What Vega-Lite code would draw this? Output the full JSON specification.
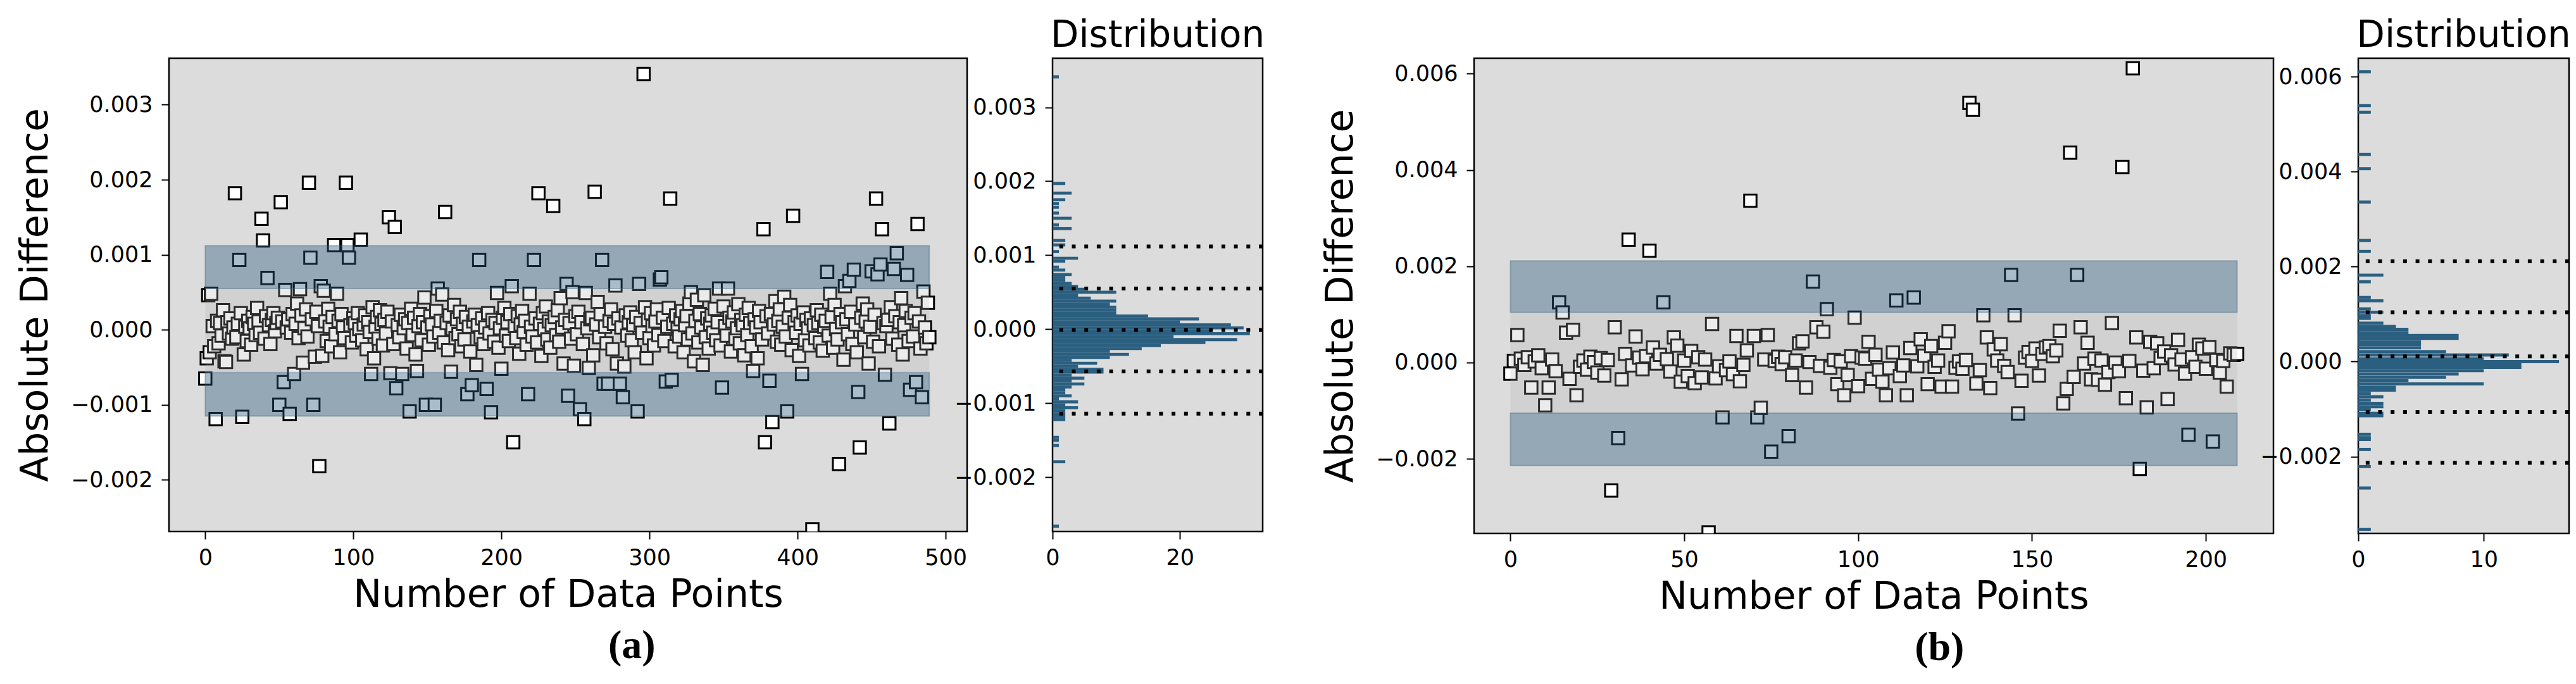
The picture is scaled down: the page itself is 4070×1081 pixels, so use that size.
{
"$schema":"https://vega.github.io/schema/vega-lite/v6.json",
"background":"white",
"padding":{"left":25,"top":26,"right":0,"bottom":0},
"autosize":{"type":"pad"},
"bounds":"full",
"spacing":87,
"datasets":{
"a_pts":[{"i":0,"v":-0.00065},{"i":1,"v":-0.00038},{"i":2,"v":0.00046},{"i":3,"v":-0.0003},{"i":4,"v":0.00048},{"i":5,"v":0.00005},{"i":6,"v":-0.00022},{"i":7,"v":-0.00119},{"i":8,"v":0.00012},{"i":9,"v":-0.00018},
{"i":10,"v":0.00009},{"i":11,"v":-0.00008},{"i":12,"v":0.00026},{"i":13,"v":-0.00042},{"i":14,"v":-0.00043},{"i":15,"v":0.0001},{"i":16,"v":-0.00005},{"i":17,"v":0.00015},{"i":18,"v":-0.00012},{"i":19,"v":0.00003},
{"i":20,"v":0.00182},{"i":21,"v":-0.0001},{"i":22,"v":0.00008},{"i":23,"v":0.00093},{"i":24,"v":0.00022},{"i":25,"v":-0.00116},{"i":26,"v":-0.00033},{"i":27,"v":0.00004},{"i":28,"v":-0.00015},{"i":29,"v":0.00012},
{"i":30,"v":0.00002},{"i":31,"v":-0.0002},{"i":32,"v":0.00017},{"i":33,"v":0.00008},{"i":34,"v":-0.00007},{"i":35,"v":0.00029},{"i":36,"v":0.00011},{"i":37,"v":-0.00004},{"i":38,"v":0.00148},{"i":39,"v":0.00119},
{"i":40,"v":-0.00012},{"i":41,"v":0.00018},{"i":42,"v":0.00069},{"i":43,"v":0.00006},{"i":44,"v":-0.00019},{"i":45,"v":0.00013},{"i":46,"v":0.00022},{"i":47,"v":-0.00002},{"i":48,"v":0.00009},{"i":49,"v":0.00016},
{"i":50,"v":-0.001},{"i":51,"v":0.0017},{"i":52,"v":0.00011},{"i":53,"v":-0.0007},{"i":54,"v":0.00053},{"i":55,"v":0.00003},{"i":56,"v":0.00014},{"i":57,"v":-0.00112},{"i":58,"v":-0.00004},{"i":59,"v":0.00021},
{"i":60,"v":-0.00059},{"i":61,"v":0.00008},{"i":62,"v":0.00035},{"i":63,"v":-0.00011},{"i":64,"v":0.00054},{"i":65,"v":0.00019},{"i":66,"v":-0.00044},{"i":67,"v":0.00002},{"i":68,"v":0.00027},{"i":69,"v":-0.00009},
{"i":70,"v":0.00196},{"i":71,"v":0.00096},{"i":72,"v":0.00014},{"i":73,"v":-0.001},{"i":74,"v":-0.00036},{"i":75,"v":0.00024},{"i":76,"v":0.00005},{"i":77,"v":-0.00182},{"i":78,"v":0.00058},{"i":79,"v":-0.00035},
{"i":80,"v":0.00052},{"i":81,"v":0.00011},{"i":82,"v":-0.00015},{"i":83,"v":0.00028},{"i":84,"v":0.00004},{"i":85,"v":-0.00022},{"i":86,"v":0.00017},{"i":87,"v":0.00113},{"i":88,"v":-0.00006},{"i":89,"v":0.00048},
{"i":90,"v":0.00012},{"i":91,"v":-0.0003},{"i":92,"v":0.00021},{"i":93,"v":0.00003},{"i":94,"v":-0.00011},{"i":95,"v":0.00196},{"i":96,"v":0.00113},{"i":97,"v":0.00096},{"i":98,"v":0.00006},{"i":99,"v":-0.00017},
{"i":100,"v":0.00015},{"i":101,"v":0.00009},{"i":102,"v":-0.00008},{"i":103,"v":0.00022},{"i":104,"v":0.00001},{"i":105,"v":0.0012},{"i":106,"v":-0.00014},{"i":107,"v":0.00007},{"i":108,"v":0.00019},{"i":109,"v":-0.00026},
{"i":110,"v":0.0001},{"i":111,"v":-0.00003},{"i":112,"v":-0.00059},{"i":113,"v":0.0003},{"i":114,"v":-0.00038},{"i":115,"v":0.00004},{"i":116,"v":0.00017},{"i":117,"v":-0.00012},{"i":118,"v":0.00026},{"i":119,"v":0.00008},
{"i":120,"v":-0.00021},{"i":121,"v":0.00013},{"i":122,"v":-0.00005},{"i":123,"v":0.00024},{"i":124,"v":0.0015},{"i":125,"v":-0.00058},{"i":126,"v":0.00011},{"i":127,"v":-0.00019},{"i":128,"v":0.00137},{"i":129,"v":-0.00078},
{"i":130,"v":0.00006},{"i":131,"v":-0.0001},{"i":132,"v":0.0002},{"i":133,"v":-0.00059},{"i":134,"v":0.00002},{"i":135,"v":0.00014},{"i":136,"v":-0.00025},{"i":137,"v":0.00009},{"i":138,"v":-0.00109},{"i":139,"v":0.00028},
{"i":140,"v":-0.00007},{"i":141,"v":0.00016},{"i":142,"v":-0.00033},{"i":143,"v":-0.00055},{"i":144,"v":0.00005},{"i":145,"v":0.00021},{"i":146,"v":-0.00014},{"i":147,"v":0.0001},{"i":148,"v":0.00043},{"i":149,"v":-0.001},
{"i":150,"v":0.00003},{"i":151,"v":-0.0002},{"i":152,"v":0.00018},{"i":153,"v":0.00007},{"i":154,"v":-0.00009},{"i":155,"v":-0.001},{"i":156,"v":0.00025},{"i":157,"v":0.00055},{"i":158,"v":-0.00004},{"i":159,"v":0.00012},
{"i":160,"v":0.00047},{"i":161,"v":-0.00017},{"i":162,"v":0.00157},{"i":163,"v":0.00009},{"i":164,"v":-0.00027},{"i":165,"v":0.00019},{"i":166,"v":-0.00056},{"i":167,"v":0.00001},{"i":168,"v":0.00033},{"i":169,"v":-0.00011},
{"i":170,"v":0.00014},{"i":171,"v":-0.00006},{"i":172,"v":0.00024},{"i":173,"v":-0.00022},{"i":174,"v":0.00008},{"i":175,"v":-0.00013},{"i":176,"v":0.00017},{"i":177,"v":-0.00086},{"i":178,"v":0.00004},{"i":179,"v":-0.00029},
{"i":180,"v":-0.00074},{"i":181,"v":0.00011},{"i":182,"v":0.0002},{"i":183,"v":-0.00047},{"i":184,"v":0.00006},{"i":185,"v":0.00093},{"i":186,"v":-0.0001},{"i":187,"v":0.00015},{"i":188,"v":-0.00019},{"i":189,"v":0.00003},
{"i":190,"v":-0.00079},{"i":191,"v":0.00022},{"i":192,"v":-0.00005},{"i":193,"v":-0.0011},{"i":194,"v":0.00013},{"i":195,"v":-0.00016},{"i":196,"v":0.00009},{"i":197,"v":0.00049},{"i":198,"v":-0.00024},{"i":199,"v":0.00002},
{"i":200,"v":-0.00052},{"i":201,"v":0.00016},{"i":202,"v":0.00029},{"i":203,"v":-0.00008},{"i":204,"v":0.0001},{"i":205,"v":-0.00015},{"i":206,"v":0.00021},{"i":207,"v":0.00058},{"i":208,"v":-0.0015},{"i":209,"v":0.00005},
{"i":210,"v":-0.00011},{"i":211,"v":0.00018},{"i":212,"v":-0.00032},{"i":213,"v":0.00007},{"i":214,"v":0.00025},{"i":215,"v":-0.00003},{"i":216,"v":0.00012},{"i":217,"v":-0.0002},{"i":218,"v":-0.00086},{"i":219,"v":0.00048},
{"i":220,"v":0.00004},{"i":221,"v":-0.00009},{"i":222,"v":0.00093},{"i":223,"v":0.00015},{"i":224,"v":-0.00017},{"i":225,"v":0.00182},{"i":226,"v":0.00008},{"i":227,"v":-0.00035},{"i":228,"v":0.00022},{"i":229,"v":0.00001},
{"i":230,"v":0.00031},{"i":231,"v":-0.00013},{"i":232,"v":0.00011},{"i":233,"v":-0.00024},{"i":234,"v":0.00006},{"i":235,"v":0.00165},{"i":236,"v":0.00017},{"i":237,"v":-0.00007},{"i":238,"v":0.00026},{"i":239,"v":-0.00016},
{"i":240,"v":0.00042},{"i":241,"v":0.00003},{"i":242,"v":-0.00045},{"i":243,"v":0.00013},{"i":244,"v":0.00061},{"i":245,"v":-0.00088},{"i":246,"v":0.00009},{"i":247,"v":-0.00012},{"i":248,"v":0.0005},{"i":249,"v":-0.00048},
{"i":250,"v":0.00018},{"i":251,"v":-0.00006},{"i":252,"v":0.00024},{"i":253,"v":-0.00106},{"i":254,"v":0.0001},{"i":255,"v":-0.00019},{"i":256,"v":-0.00119},{"i":257,"v":0.00049},{"i":258,"v":0.00002},{"i":259,"v":-0.00051},
{"i":260,"v":0.00014},{"i":261,"v":0.00016},{"i":262,"v":-0.00034},{"i":263,"v":0.00184},{"i":264,"v":0.00007},{"i":265,"v":0.00037},{"i":266,"v":-0.0001},{"i":267,"v":0.00021},{"i":268,"v":0.00093},{"i":269,"v":-0.00072},
{"i":270,"v":0.00004},{"i":271,"v":-0.00018},{"i":272,"v":-0.00072},{"i":273,"v":0.00012},{"i":274,"v":0.00027},{"i":275,"v":-0.00026},{"i":276,"v":0.00008},{"i":277,"v":0.00059},{"i":278,"v":-0.00045},{"i":279,"v":0.00015},
{"i":280,"v":-0.00072},{"i":281,"v":0.00003},{"i":282,"v":-0.0009},{"i":283,"v":-0.00049},{"i":284,"v":0.00019},{"i":285,"v":-0.00008},{"i":286,"v":0.0001},{"i":287,"v":0.00023},{"i":288,"v":-0.00014},{"i":289,"v":0.00006},
{"i":290,"v":-0.0003},{"i":291,"v":0.00017},{"i":292,"v":-0.00109},{"i":293,"v":0.00061},{"i":294,"v":0.00009},{"i":295,"v":-0.00004},{"i":296,"v":0.00341},{"i":297,"v":0.0003},{"i":298,"v":-0.00038},{"i":299,"v":0.00013},
{"i":300,"v":-0.00011},{"i":301,"v":0.00022},{"i":302,"v":0.00005},{"i":303,"v":-0.00021},{"i":304,"v":0.00011},{"i":305,"v":0.00027},{"i":306,"v":-0.00007},{"i":307,"v":0.00067},{"i":308,"v":0.0007},{"i":309,"v":0.00016},
{"i":310,"v":-0.00015},{"i":311,"v":-0.00069},{"i":312,"v":0.00004},{"i":313,"v":0.00029},{"i":314,"v":0.00175},{"i":315,"v":-0.00067},{"i":316,"v":0.00008},{"i":317,"v":-0.00022},{"i":318,"v":0.00019},{"i":319,"v":0.00001},
{"i":320,"v":-0.00009},{"i":321,"v":0.00014},{"i":322,"v":0.00025},{"i":323,"v":-0.0003},{"i":324,"v":0.00006},{"i":325,"v":0.00018},{"i":326,"v":-0.00013},{"i":327,"v":0.00035},{"i":328,"v":0.0005},{"i":329,"v":-0.00005},
{"i":330,"v":-0.00042},{"i":331,"v":0.00012},{"i":332,"v":0.0004},{"i":333,"v":-0.00017},{"i":334,"v":0.00021},{"i":335,"v":0.00003},{"i":336,"v":-0.00047},{"i":337,"v":0.00046},{"i":338,"v":-0.0001},{"i":339,"v":0.00015},
{"i":340,"v":-0.00025},{"i":341,"v":0.00008},{"i":342,"v":0.00019},{"i":343,"v":-0.00004},{"i":344,"v":0.00028},{"i":345,"v":-0.00014},{"i":346,"v":0.0001},{"i":347,"v":0.00055},{"i":348,"v":-0.00021},{"i":349,"v":-0.00077},
{"i":350,"v":0.00031},{"i":351,"v":0.00005},{"i":352,"v":-0.00008},{"i":353,"v":0.00055},{"i":354,"v":0.00016},{"i":355,"v":-0.00029},{"i":356,"v":0.00011},{"i":357,"v":0.00023},{"i":358,"v":-0.00012},{"i":359,"v":0.00002},
{"i":360,"v":0.00034},{"i":361,"v":-0.00018},{"i":362,"v":0.00013},{"i":363,"v":0.00006},{"i":364,"v":-0.00034},{"i":365,"v":0.0002},{"i":366,"v":-0.00007},{"i":367,"v":0.00029},{"i":368,"v":0.00009},{"i":369,"v":-0.00022},
{"i":370,"v":-0.00055},{"i":371,"v":0.00014},{"i":372,"v":0.00003},{"i":373,"v":-0.00038},{"i":374,"v":0.00025},{"i":375,"v":0.0001},{"i":376,"v":-0.00013},{"i":377,"v":0.00134},{"i":378,"v":-0.0015},{"i":379,"v":0.00018},
{"i":380,"v":-0.00005},{"i":381,"v":-0.00068},{"i":382,"v":0.00021},{"i":383,"v":-0.00123},{"i":384,"v":0.00007},{"i":385,"v":0.00038},{"i":386,"v":-0.00016},{"i":387,"v":0.00012},{"i":388,"v":0.00027},{"i":389,"v":-0.0002},
{"i":390,"v":0.00004},{"i":391,"v":0.00044},{"i":392,"v":-0.00009},{"i":393,"v":-0.00109},{"i":394,"v":0.00016},{"i":395,"v":0.00033},{"i":396,"v":-0.00027},{"i":397,"v":0.00152},{"i":398,"v":0.0001},{"i":399,"v":-0.00004},
{"i":400,"v":0.00019},{"i":401,"v":-0.00035},{"i":402,"v":0.00008},{"i":403,"v":-0.00059},{"i":404,"v":0.00023},{"i":405,"v":-0.00014},{"i":406,"v":0.00013},{"i":407,"v":0.00002},{"i":408,"v":-0.00021},{"i":409,"v":0.00015},
{"i":410,"v":-0.00266},{"i":411,"v":0.00006},{"i":412,"v":-0.00011},{"i":413,"v":0.00026},{"i":414,"v":0.00009},{"i":415,"v":-0.00017},{"i":416,"v":0.0002},{"i":417,"v":-0.00028},{"i":418,"v":0.00004},{"i":419,"v":0.00012},
{"i":420,"v":0.00077},{"i":421,"v":-0.00008},{"i":422,"v":0.00048},{"i":423,"v":0.00017},{"i":424,"v":-0.00024},{"i":425,"v":0.00033},{"i":426,"v":0.00001},{"i":427,"v":-0.00013},{"i":428,"v":-0.00179},{"i":429,"v":0.00021},
{"i":430,"v":0.0001},{"i":431,"v":-0.0004},{"i":432,"v":0.00058},{"i":433,"v":0.00014},{"i":434,"v":-0.00006},{"i":435,"v":0.00065},{"i":436,"v":0.00024},{"i":437,"v":-0.00019},{"i":438,"v":0.0008},{"i":439,"v":0.00007},
{"i":440,"v":-0.0003},{"i":441,"v":-0.00083},{"i":442,"v":-0.00157},{"i":443,"v":0.00016},{"i":444,"v":0.00035},{"i":445,"v":-0.0001},{"i":446,"v":0.00011},{"i":447,"v":0.00027},{"i":448,"v":-0.00045},{"i":449,"v":0.00004},
{"i":450,"v":0.00078},{"i":451,"v":-0.00016},{"i":452,"v":0.0002},{"i":453,"v":0.00175},{"i":454,"v":0.00074},{"i":455,"v":-0.00022},{"i":456,"v":0.00087},{"i":457,"v":0.00134},{"i":458,"v":0.00009},{"i":459,"v":-0.0006},
{"i":460,"v":0.00005},{"i":461,"v":0.00013},{"i":462,"v":-0.00125},{"i":463,"v":0.0003},{"i":464,"v":-0.00012},{"i":465,"v":0.00081},{"i":466,"v":0.00018},{"i":467,"v":0.00102},{"i":468,"v":-0.0002},{"i":469,"v":0.0001},
{"i":470,"v":0.00042},{"i":471,"v":-0.00033},{"i":472,"v":0.00006},{"i":473,"v":0.00025},{"i":474,"v":0.00073},{"i":475,"v":-0.00015},{"i":476,"v":-0.0008},{"i":477,"v":0.00016},{"i":478,"v":-0.00009},{"i":479,"v":0.00022},
{"i":480,"v":-0.0007},{"i":481,"v":0.00141},{"i":482,"v":0.00011},{"i":483,"v":-0.00025},{"i":484,"v":-0.0009},{"i":485,"v":0.00051},{"i":486,"v":0.00003},{"i":487,"v":-0.00018},{"i":488,"v":0.00036},{"i":489,"v":-0.0001}],
"a_outer":[{"x0":0,"x1":489,"lo":0.00055,"hi":0.00112},{"x0":0,"x1":489,"lo":-0.00115,"hi":-0.00057}],
"a_inner":[{"x0":0,"x1":489,"lo":-0.00057,"hi":0.00055}],
"a_lines":[{"v":0.00112},{"v":0.00055},{"v":-0.00001},{"v":-0.00057},{"v":-0.00114}],
"a_hist":[{"v":0.00341,"n":1},{"v":0.00197,"n":2},{"v":0.00184,"n":3},{"v":0.00175,"n":2},{"v":0.0017,"n":1},{"v":0.00165,"n":1},{"v":0.00157,"n":1},{"v":0.0015,"n":3},{"v":0.00141,"n":1},{"v":0.00136,"n":3},{"v":0.0012,"n":2},{"v":0.00114,"n":2},{"v":0.00105,"n":1},{"v":0.00096,"n":4},{"v":0.00092,"n":2},{"v":0.00084,"n":1},{"v":0.0008,"n":2},{"v":0.00074,"n":3},{"v":0.0007,"n":2},{"v":0.00066,"n":2},{"v":0.00062,"n":3},{"v":0.00058,"n":4},{"v":0.00054,"n":5},{"v":0.0005,"n":10},{"v":0.00046,"n":4},{"v":0.00042,"n":6},{"v":0.00038,"n":10},{"v":0.00034,"n":9},{"v":0.0003,"n":10},{"v":0.00026,"n":10},{"v":0.00022,"n":10},{"v":0.00018,"n":15},{"v":0.00014,"n":23},{"v":0.0001,"n":20},{"v":0.00006,"n":28},{"v":0.00002,"n":30},{"v":-0.00002,"n":25},{"v":-0.00006,"n":31},{"v":-0.0001,"n":19},{"v":-0.00014,"n":29},{"v":-0.00018,"n":24},{"v":-0.00022,"n":17},{"v":-0.00026,"n":14},{"v":-0.0003,"n":9},{"v":-0.00034,"n":12},{"v":-0.00038,"n":9},{"v":-0.00042,"n":3},{"v":-0.00046,"n":7},{"v":-0.0005,"n":4},{"v":-0.00054,"n":8},{"v":-0.00058,"n":8},{"v":-0.00062,"n":3},{"v":-0.00066,"n":5},{"v":-0.0007,"n":3},{"v":-0.00074,"n":5},{"v":-0.00078,"n":3},{"v":-0.00082,"n":2},{"v":-0.00086,"n":2},{"v":-0.0009,"n":3},{"v":-0.00094,"n":1},{"v":-0.00098,"n":4},{"v":-0.00102,"n":2},{"v":-0.00106,"n":4},{"v":-0.0011,"n":2},{"v":-0.00114,"n":2},{"v":-0.00118,"n":2},{"v":-0.00122,"n":2},{"v":-0.00146,"n":1},{"v":-0.0015,"n":1},{"v":-0.00157,"n":1},{"v":-0.00179,"n":2},{"v":-0.00266,"n":1}],
"b_pts":[{"i":0,"v":-0.00023},{"i":1,"v":0.00003},{"i":2,"v":0.00057},{"i":3,"v":0.00008},{"i":4,"v":-0.00005},{"i":5,"v":0.00011},{"i":6,"v":-0.00052},{"i":7,"v":0.00002},{"i":8,"v":0.00015},{"i":9,"v":-0.00012},
{"i":10,"v":-0.00089},{"i":11,"v":-0.00052},{"i":12,"v":0.00006},{"i":13,"v":-0.00018},{"i":14,"v":0.00125},{"i":15,"v":0.00104},{"i":16,"v":0.00062},{"i":17,"v":-0.00034},{"i":18,"v":0.00068},{"i":19,"v":-0.00068},
{"i":20,"v":-0.00009},{"i":21,"v":0.00004},{"i":22,"v":-0.00015},{"i":23,"v":0.00012},{"i":24,"v":0.00001},{"i":25,"v":-0.00021},{"i":26,"v":0.00009},{"i":27,"v":-0.00027},{"i":28,"v":0.00005},{"i":29,"v":-0.00266},
{"i":30,"v":0.00073},{"i":31,"v":-0.00157},{"i":32,"v":-0.00035},{"i":33,"v":0.00018},{"i":34,"v":0.00255},{"i":35,"v":-0.00006},{"i":36,"v":0.00054},{"i":37,"v":0.0001},{"i":38,"v":-0.00014},{"i":39,"v":0.00013},
{"i":40,"v":0.00232},{"i":41,"v":0.00031},{"i":42,"v":-0.00002},{"i":43,"v":0.00016},{"i":44,"v":0.00125},{"i":45,"v":0.00007},{"i":46,"v":-0.00019},{"i":47,"v":0.00052},{"i":48,"v":0.00035},{"i":49,"v":-0.0004},
{"i":50,"v":0.00004},{"i":51,"v":-0.00028},{"i":52,"v":0.00024},{"i":53,"v":-0.00043},{"i":54,"v":0.00011},{"i":55,"v":-0.00031},{"i":56,"v":0.00006},{"i":57,"v":-0.00353},{"i":58,"v":0.0008},{"i":59,"v":-0.00033},
{"i":60,"v":-0.00008},{"i":61,"v":-0.00114},{"i":62,"v":-0.00016},{"i":63,"v":0.00002},{"i":64,"v":-0.00024},{"i":65,"v":0.00055},{"i":66,"v":-0.00039},{"i":67,"v":-0.00005},{"i":68,"v":0.00025},{"i":69,"v":0.00336},
{"i":70,"v":0.00055},{"i":71,"v":-0.00114},{"i":72,"v":-0.00094},{"i":73,"v":0.00006},{"i":74,"v":0.00057},{"i":75,"v":-0.00185},{"i":76,"v":0.00003},{"i":77,"v":0.00012},{"i":78,"v":-0.00003},{"i":79,"v":0.00011},
{"i":80,"v":-0.00153},{"i":81,"v":-0.00026},{"i":82,"v":0.00004},{"i":83,"v":0.0004},{"i":84,"v":0.00044},{"i":85,"v":-0.00052},{"i":86,"v":0.00001},{"i":87,"v":0.00168},{"i":88,"v":0.00073},{"i":89,"v":-0.00007},
{"i":90,"v":0.00064},{"i":91,"v":0.00111},{"i":92,"v":-0.00011},{"i":93,"v":0.00005},{"i":94,"v":-0.00045},{"i":95,"v":0.00002},{"i":96,"v":-0.00068},{"i":97,"v":-0.00026},{"i":98,"v":0.00013},{"i":99,"v":0.00093},
{"i":100,"v":-0.00049},{"i":101,"v":0.0001},{"i":102,"v":0.00008},{"i":103,"v":0.00043},{"i":104,"v":-0.00034},{"i":105,"v":0.00016},{"i":106,"v":-0.00015},{"i":107,"v":-0.0004},{"i":108,"v":-0.00068},{"i":109,"v":-0.00012},
{"i":110,"v":0.00021},{"i":111,"v":0.00129},{"i":112,"v":-0.00028},{"i":113,"v":-0.00006},{"i":114,"v":-0.00068},{"i":115,"v":0.0003},{"i":116,"v":0.00135},{"i":117,"v":-0.00008},{"i":118,"v":0.00048},{"i":119,"v":0.00014},
{"i":120,"v":-0.00045},{"i":121,"v":0.00034},{"i":122,"v":-0.00009},{"i":123,"v":0.00004},{"i":124,"v":-0.0005},{"i":125,"v":0.00041},{"i":126,"v":0.00065},{"i":127,"v":-0.0005},{"i":128,"v":-0.00011},{"i":129,"v":0.00002},
{"i":130,"v":-0.00013},{"i":131,"v":0.00005},{"i":132,"v":0.00539},{"i":133,"v":0.00525},{"i":134,"v":-0.00044},{"i":135,"v":-0.00016},{"i":136,"v":0.00098},{"i":137,"v":0.00052},{"i":138,"v":-0.00053},{"i":139,"v":0.00027},
{"i":140,"v":0.00004},{"i":141,"v":0.00038},{"i":142,"v":-0.00007},{"i":143,"v":-0.0002},{"i":144,"v":0.00182},{"i":145,"v":0.00098},{"i":146,"v":-0.00106},{"i":147,"v":-0.00038},{"i":148,"v":0.0001},{"i":149,"v":0.00022},
{"i":150,"v":0.00003},{"i":151,"v":0.00029},{"i":152,"v":-0.00027},{"i":153,"v":0.00018},{"i":154,"v":0.00031},{"i":155,"v":0.00034},{"i":156,"v":0.00013},{"i":157,"v":0.00025},{"i":158,"v":0.00066},{"i":159,"v":-0.00085},
{"i":160,"v":-0.00055},{"i":161,"v":0.00436},{"i":162,"v":-0.0003},{"i":163,"v":0.00182},{"i":164,"v":0.00073},{"i":165,"v":-0.00002},{"i":166,"v":0.00041},{"i":167,"v":-0.00035},{"i":168,"v":0.00008},{"i":169,"v":-0.00036},
{"i":170,"v":0.00004},{"i":171,"v":-0.00046},{"i":172,"v":-0.0002},{"i":173,"v":0.00082},{"i":174,"v":0.0},{"i":175,"v":-0.00018},{"i":176,"v":0.00406},{"i":177,"v":-0.00074},{"i":178,"v":0.00003},{"i":179,"v":0.00611},
{"i":180,"v":0.00052},{"i":181,"v":-0.00221},{"i":182,"v":-0.00017},{"i":183,"v":-0.00093},{"i":184,"v":0.00043},{"i":185,"v":-0.00012},{"i":186,"v":0.0004},{"i":187,"v":0.00009},{"i":188,"v":0.00023},{"i":189,"v":-0.00076},
{"i":190,"v":0.00015},{"i":191,"v":-0.00004},{"i":192,"v":0.00047},{"i":193,"v":0.00006},{"i":194,"v":-0.00023},{"i":195,"v":-0.0015},{"i":196,"v":0.00011},{"i":197,"v":-0.00009},{"i":198,"v":0.00037},{"i":199,"v":0.00029},
{"i":200,"v":-0.00013},{"i":201,"v":0.00032},{"i":202,"v":-0.00164},{"i":203,"v":0.00005},{"i":204,"v":-0.00021},{"i":205,"v":0.00003},{"i":206,"v":-0.0005},{"i":207,"v":0.00019},{"i":208,"v":0.00016},{"i":209,"v":0.00018}],
"b_outer":[{"x0":0,"x1":209,"lo":0.00104,"hi":0.00211},{"x0":0,"x1":209,"lo":-0.00214,"hi":-0.00105}],
"b_inner":[{"x0":0,"x1":209,"lo":-0.00105,"hi":0.00104}],
"b_lines":[{"v":0.00211},{"v":0.00104},{"v":0.00011},{"v":-0.00106},{"v":-0.00213}],
"b_hist":[{"v":0.0061,"n":1},{"v":0.00539,"n":1},{"v":0.00525,"n":1},{"v":0.00436,"n":1},{"v":0.00406,"n":1},{"v":0.00336,"n":1},{"v":0.00255,"n":1},{"v":0.00232,"n":1},{"v":0.00182,"n":2},{"v":0.00168,"n":1},{"v":0.00135,"n":1},{"v":0.00128,"n":2},{"v":0.00111,"n":1},{"v":0.00104,"n":2},{"v":0.00097,"n":1},{"v":0.00091,"n":1},{"v":0.00081,"n":2},{"v":0.00074,"n":3},{"v":0.00068,"n":4},{"v":0.00061,"n":4},{"v":0.00055,"n":8},{"v":0.00049,"n":8},{"v":0.00042,"n":5},{"v":0.00036,"n":5},{"v":0.00029,"n":5},{"v":0.00021,"n":7},{"v":0.00014,"n":12},{"v":0.00006,"n":10},{"v":0.0,"n":16},{"v":-0.00006,"n":13},{"v":-0.00012,"n":13},{"v":-0.00019,"n":10},{"v":-0.00026,"n":8},{"v":-0.00033,"n":7},{"v":-0.0004,"n":4},{"v":-0.00047,"n":10},{"v":-0.00054,"n":3},{"v":-0.0006,"n":3},{"v":-0.00067,"n":1},{"v":-0.00074,"n":2},{"v":-0.00081,"n":1},{"v":-0.00088,"n":2},{"v":-0.00095,"n":2},{"v":-0.00101,"n":1},{"v":-0.00109,"n":2},{"v":-0.00114,"n":2},{"v":-0.00153,"n":1},{"v":-0.0016,"n":1},{"v":-0.00164,"n":1},{"v":-0.00185,"n":1},{"v":-0.00221,"n":1},{"v":-0.00266,"n":1},{"v":-0.00353,"n":1}]
},
"hconcat":[
{"bounds":"flush","spacing":135,
 "title":{"text":"(a)","orient":"bottom","anchor":"middle","frame":"bounds","font":"Liberation Serif","fontSize":64,"fontWeight":"bold","color":"black","offset":18,"dx":-14},
 "hconcat":[
  {"width":1261,"height":748,
   "layer":[
    {"data":{"name":"a_pts"},"mark":{"type":"point","shape":"square","filled":true,"fill":"white","stroke":"black","strokeWidth":3,"size":380,"opacity":1,"clip":true},
     "encoding":{"x":{"field":"i","type":"quantitative","title":"Number of Data Points","scale":{"domain":[-24.5,514.5],"nice":false,"zero":false},"axis":{"values":[0,100,200,300,400,500],"format":"d"}},
                 "y":{"field":"v","type":"quantitative","title":"Absolute Difference","scale":{"domain":[-0.00269,0.00362],"nice":false,"zero":false},"axis":{"values":[-0.002,-0.001,0,0.001,0.002,0.003],"format":".3f"}}}},
    {"data":{"name":"a_outer"},"mark":{"type":"rect","fill":"#2a5a7a","fillOpacity":0.4,"stroke":"#2a5a7a","strokeOpacity":0.35,"strokeWidth":2},
     "encoding":{"x":{"field":"x0","type":"quantitative","title":"Number of Data Points"},"x2":{"field":"x1"},"y":{"field":"lo","type":"quantitative","title":"Absolute Difference"},"y2":{"field":"hi"}}},
    {"data":{"name":"a_inner"},"mark":{"type":"rect","fill":"#b0b0b0","fillOpacity":0.25},
     "encoding":{"x":{"field":"x0","type":"quantitative","title":"Number of Data Points"},"x2":{"field":"x1"},"y":{"field":"lo","type":"quantitative","title":"Absolute Difference"},"y2":{"field":"hi"}}}
   ]},
  {"width":332,"height":748,
   "title":{"text":"Distribution","font":"DejaVu Sans","fontSize":58,"fontWeight":"normal","color":"black","anchor":"middle","offset":6},
   "layer":[
    {"data":{"name":"a_hist"},"mark":{"type":"bar","orient":"horizontal","size":4.8,"color":"#2b5f80"},
     "encoding":{"x":{"field":"n","type":"quantitative","title":null,"scale":{"domain":[0,33],"nice":false},"axis":{"values":[0,20],"format":"d"}},
                 "y":{"field":"v","type":"quantitative","title":null,"scale":{"domain":[-0.00269,0.00362],"nice":false,"zero":false},"axis":{"values":[-0.002,-0.001,0,0.001,0.002,0.003],"format":".3f"}}}},
    {"data":{"name":"a_lines"},"mark":{"type":"rule","color":"black","strokeWidth":6,"strokeDash":[6,13.7]},
     "encoding":{"y":{"field":"v","type":"quantitative","title":null}}}
   ]}
 ]},
{"bounds":"flush","spacing":134,
 "title":{"text":"(b)","orient":"bottom","anchor":"middle","frame":"bounds","font":"Liberation Serif","fontSize":64,"fontWeight":"bold","color":"black","offset":18,"dx":-11},
 "hconcat":[
  {"width":1263,"height":751,
   "layer":[
    {"data":{"name":"b_pts"},"mark":{"type":"point","shape":"square","filled":true,"fill":"white","stroke":"black","strokeWidth":3,"size":380,"opacity":1,"clip":true},
     "encoding":{"x":{"field":"i","type":"quantitative","title":"Number of Data Points","scale":{"domain":[-10.45,219.45],"nice":false,"zero":false},"axis":{"values":[0,50,100,150,200],"format":"d"}},
                 "y":{"field":"v","type":"quantitative","title":"Absolute Difference","scale":{"domain":[-0.00355,0.00632],"nice":false,"zero":false},"axis":{"values":[-0.002,0,0.002,0.004,0.006],"format":".3f"}}}},
    {"data":{"name":"b_outer"},"mark":{"type":"rect","fill":"#2a5a7a","fillOpacity":0.4,"stroke":"#2a5a7a","strokeOpacity":0.35,"strokeWidth":2},
     "encoding":{"x":{"field":"x0","type":"quantitative","title":"Number of Data Points"},"x2":{"field":"x1"},"y":{"field":"lo","type":"quantitative","title":"Absolute Difference"},"y2":{"field":"hi"}}},
    {"data":{"name":"b_inner"},"mark":{"type":"rect","fill":"#b0b0b0","fillOpacity":0.25},
     "encoding":{"x":{"field":"x0","type":"quantitative","title":"Number of Data Points"},"x2":{"field":"x1"},"y":{"field":"lo","type":"quantitative","title":"Absolute Difference"},"y2":{"field":"hi"}}}
   ]},
  {"width":333,"height":751,
   "title":{"text":"Distribution","font":"DejaVu Sans","fontSize":58,"fontWeight":"normal","color":"black","anchor":"middle","offset":6},
   "layer":[
    {"data":{"name":"b_hist"},"mark":{"type":"bar","orient":"horizontal","size":4.9,"color":"#2b5f80"},
     "encoding":{"x":{"field":"n","type":"quantitative","title":null,"scale":{"domain":[0,16.8],"nice":false},"axis":{"values":[0,10],"format":"d"}},
                 "y":{"field":"v","type":"quantitative","title":null,"scale":{"domain":[-0.00355,0.00632],"nice":false,"zero":false},"axis":{"values":[-0.002,0,0.002,0.004,0.006],"format":".3f"}}}},
    {"data":{"name":"b_lines"},"mark":{"type":"rule","color":"black","strokeWidth":6,"strokeDash":[6,13.7]},
     "encoding":{"y":{"field":"v","type":"quantitative","title":null}}}
   ]}
 ]}
],
"config":{
 "view":{"fill":"#dcdcdc","stroke":"black","strokeWidth":2.5},
 "axis":{"domain":false,"grid":false,"ticks":true,"tickColor":"black","tickWidth":2,"tickSize":12,"labelFont":"DejaVu Sans","labelFontSize":35,"labelColor":"black","labelPadding":12,"labelFlush":false,"labelOverlap":false,"titleFont":"DejaVu Sans","titleFontSize":60,"titleFontWeight":"normal","titleColor":"black"},
 "axisY":{"titlePadding":24,"labelPadding":14},
 "axisX":{"titlePadding":12}
}
}
